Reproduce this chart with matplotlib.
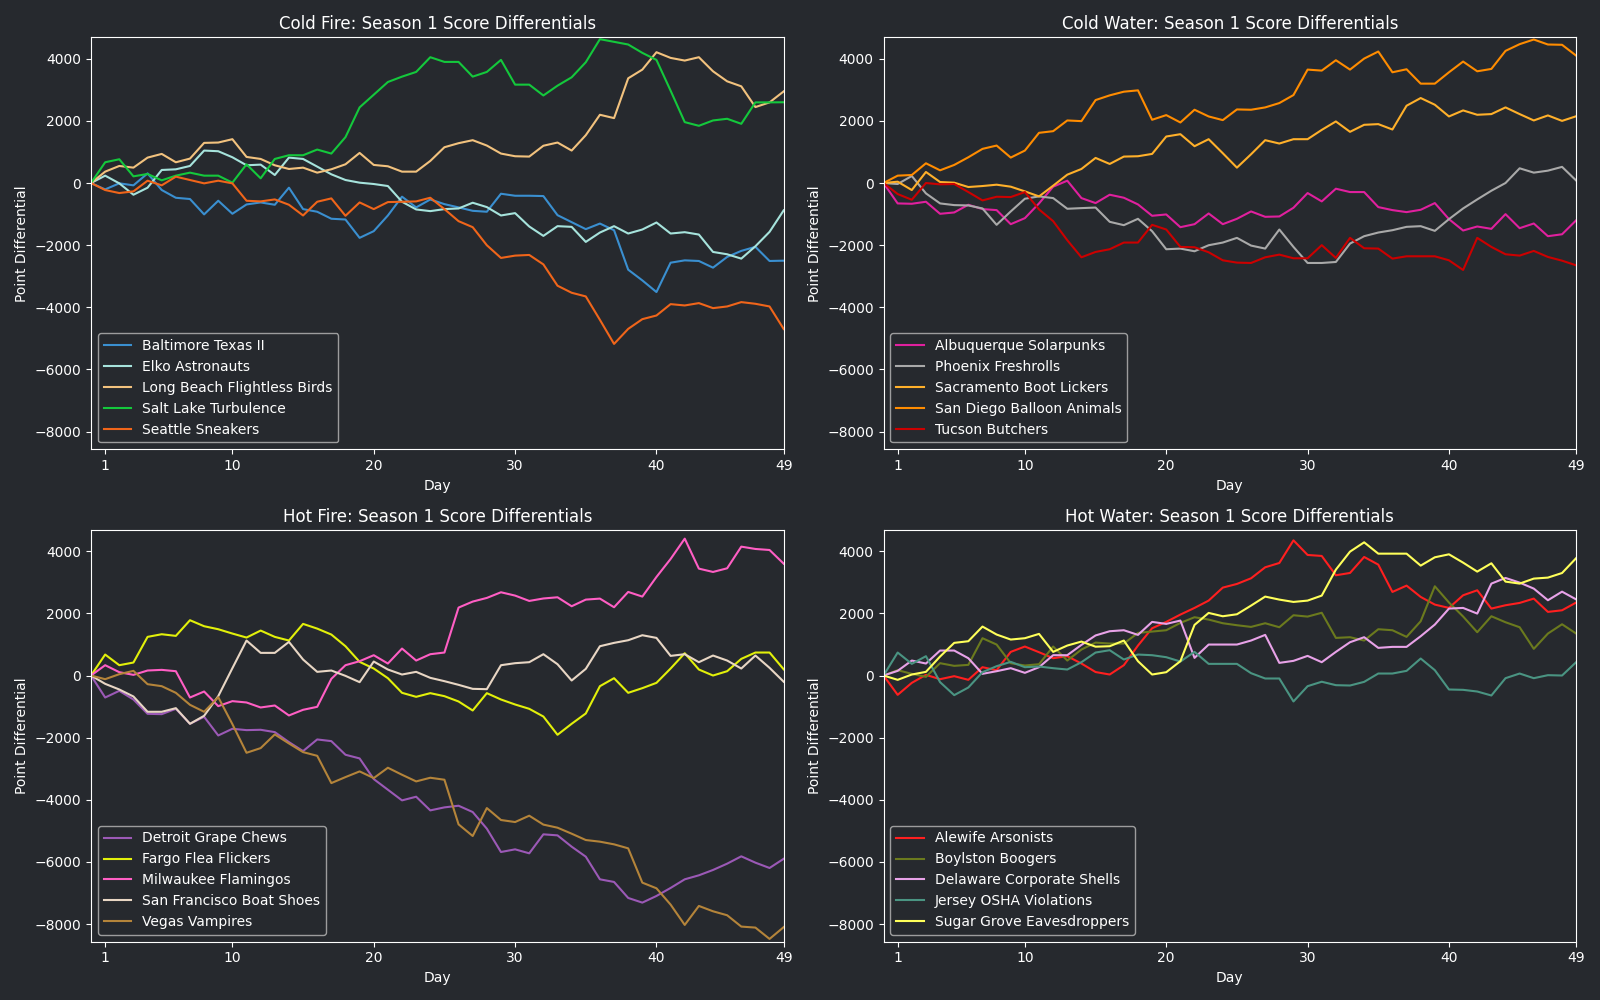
import matplotlib
matplotlib.use("Agg")
import matplotlib.pyplot as plt
import numpy as np

days = list(range(0, 50))
x_ticks = [1, 10, 20, 30, 40, 49]

# ---- Cold Fire ----
cold_fire_teams = ["Baltimore Texas II", "Elko Astronauts", "Long Beach Flightless Birds",
                   "Salt Lake Turbulence", "Seattle Sneakers"]
baltimore = [0, -205, -10, -75, 310, -225, -475, -515, -1010, -570, -990, -690, -625, -700, -150, -840, -925,
             -1150, -1175, -1765, -1550, -1045, -440, -785, -530, -680, -785, -895, -925, -345, -410, -410, -420,
             -1035, -1260, -1485, -1305, -1520, -2790, -3135, -3510, -2565, -2490, -2510, -2725, -2380, -2185,
             -2055, -2510, -2500]
elko = [0, 237, -11, -377, -151, 420, 441, 549, 1045, 1023, 829, 571, 592, 258, 818, 775, 528,
        280, 97, 11, -32, -97, -603, -851, -905, -840, -819, -635, -775, -1045, -969, -1400, -1702,
        -1389, -1411, -1896, -1594, -1389, -1626, -1497, -1271, -1626, -1583, -1659, -2219, -2294, -2434,
        -2036, -1572, -880]
long_beach = [0, 366, 549, 495, 818, 937, 668, 786, 1292, 1303, 1411, 840, 775, 571, 452, 495, 334,
              442, 603, 969, 582, 539, 366, 366, 711, 1152, 1282, 1379, 1206, 948, 862, 851, 1200,
              1303, 1045, 1540, 2197, 2089, 3371, 3651, 4211, 4028, 3942, 4050, 3597, 3274, 3113, 2445,
              2596, 2950]
salt_lake = [0, 668, 765, 215, 291, 86, 237, 334, 237, 237, 11, 603, 151, 775, 894, 894, 1077,
             948, 1477, 2435, 2843, 3252, 3425, 3576, 4050, 3899, 3899, 3425, 3576, 3964, 3167, 3167, 2818,
             3134, 3403, 3888, 4631, 4545, 4459, 4190, 3963, 2973, 1960, 1842, 2014, 2068, 1906, 2596,
             2596, 2600]
seattle = [0, -226, -323, -269, 75, -75, 205, 97, -11, 75, -11, -571, -592, -528, -700, -1045, -603,
           -495, -1055, -625, -840, -614, -603, -592, -474, -840, -1228, -1422, -2003, -2412, -2337, -2316,
           -2620, -3306, -3533, -3651, -4405, -5180, -4696, -4383, -4265, -3899, -3942, -3866, -4028, -3974,
           -3834, -3888, -3974, -4700]
cold_fire_colors = ["#3a8fd0", "#a6e3dc", "#f2c27e", "#14c83c", "#f0651a"]

# ---- Cold Water ----
cold_water_teams = ["Albuquerque Solarpunks", "Phoenix Freshrolls", "Sacramento Boot Lickers",
                    "San Diego Balloon Animals", "Tucson Butchers"]
albuquerque = [0, -657, -668, -603, -991, -948, -700, -840, -872, -1325, -1131, -657, -118, 75, -485, -646,
               -377, -474, -689, -1055, -1012, -1422, -1325, -980, -1325, -1152, -915, -1088, -1077, -797,
               -323, -592, -183, -291, -291, -775, -872, -937, -862, -646, -1163, -1529, -1400, -1475, -1002,
               -1454, -1303, -1712, -1650, -1200]
phoenix = [0, -32, 226, -334, -657, -711, -722, -819, -1346, -915, -506, -431, -485, -829, -808, -790,
           -1249, -1357, -1152, -1551, -2132, -2111, -2197, -2003, -1917, -1766, -2014, -2111, -1497, -2057,
           -2574, -2574, -2542, -1949, -1712, -1594, -1519, -1411, -1389, -1540, -1163, -819, -528, -248, 0,
           474, 334, 398, 520, 80]
sacramento = [0, 43, -226, 355, 32, 11, -129, -97, -54, -118, -269, -431, -86, 269, 452, 808,
              614, 851, 862, 937, 1497, 1572, 1185, 1411, 959, 495, 926, 1379, 1271, 1411, 1411, 1710,
              1982, 1648, 1874, 1896, 1723, 2488, 2736, 2520, 2143, 2337, 2197, 2219, 2434, 2219, 2014,
              2176, 2000, 2150]
san_diego = [0, 237, 258, 635, 409, 582, 829, 1099, 1206, 819, 1045, 1616, 1669, 2014, 1992, 2670,
             2822, 2940, 2983, 2036, 2186, 1949, 2359, 2143, 2025, 2369, 2359, 2434, 2574, 2832, 3651, 3619,
             3953, 3651, 4006, 4233, 3565, 3662, 3199, 3199, 3565, 3910, 3597, 3673, 4254, 4470, 4620,
             4459, 4450, 4100]
tucson = [0, -355, -539, 0, -43, -32, -291, -560, -442, -452, -291, -851, -1228, -1842, -2391, -2219,
          -2132, -1917, -1917, -1346, -1497, -2057, -2068, -2229, -2488, -2563, -2574, -2391, -2305, -2423,
          -2423, -2000, -2412, -1766, -2100, -2111, -2434, -2359, -2359, -2359, -2488, -2800, -1766, -2057,
          -2294, -2337, -2186, -2380, -2500, -2650]
cold_water_colors = ["#e0209e", "#a9a9a9", "#ffb02a", "#ff8c00", "#cc0000"]

# ---- Hot Fire ----
hot_fire_teams = ["Detroit Grape Chews", "Fargo Flea Flickers", "Milwaukee Flamingos",
                  "San Francisco Boat Shoes", "Vegas Vampires"]
detroit = [0, -708, -493, -772, -1233, -1244, -1072, -1554, -1329, -1930, -1715, -1758, -1747, -1822, -2144,
           -2433, -2058, -2112, -2551, -2669, -3334, -3677, -4020, -3902, -4342, -4245, -4192, -4395, -4931,
           -5682, -5596, -5724, -5113, -5146, -5510, -5832, -6561, -6646, -7161, -7311, -7097, -6839, -6561,
           -6432, -6260, -6057, -5821, -6025, -6196, -5900]
fargo = [0, 675, 332, 418, 1244, 1329, 1276, 1780, 1587, 1490, 1351, 1222, 1447, 1244, 1126, 1662, 1510,
         1319, 943, 440, 225, -86, -557, -686, -568, -665, -836, -1126, -568, -772, -933, -1072, -1320,
         -1908, -1554, -1222, -343, -86, -557, -407, -236, 225, 718, 193, 0, 139, 536, 740, 740, 200]
milwaukee = [0, 332, 107, 21, 161, 182, 139, -708, -515, -986, -825, -868, -1029, -965, -1286, -1104, -1008,
             -107, 332, 461, 654, 386, 868, 482, 686, 740, 2187, 2380, 2498, 2680, 2573, 2401, 2480,
             2519, 2230, 2444, 2476, 2198, 2691, 2541, 3173, 3752, 4406, 3441, 3334, 3452, 4149, 4074,
             4041, 3600]
san_francisco = [0, -268, -450, -675, -1168, -1168, -1051, -1554, -1297, -665, 236, 1126, 729, 729, 1083, 515,
                 118, 161, -11, -214, 450, 193, 32, 118, -75, -182, -300, -429, -440, 332, 397, 429, 686,
                 364, -161, 214, 943, 1051, 1136, 1297, 1211, 632, 686, 429, 643, 482, 225, 643, 247, -200]
vegas = [0, -118, 43, 150, -279, -343, -557, -943, -1168, -697, -1565, -2487, -2337, -1897, -2187, -2466,
         -2585, -3463, -3270, -3087, -3302, -2969, -3195, -3409, -3291, -3355, -4792, -5167, -4267, -4652,
         -4717, -4513, -4800, -4899, -5092, -5296, -5349, -5435, -5564, -6668, -6850, -7375, -8029, -7418,
         -7590, -7718, -8083, -8115, -8480, -8100]
hot_fire_colors = ["#9b59b6", "#e2f00a", "#ff5ec4", "#e8d6c4", "#b4843a"]

# ---- Hot Water ----
hot_water_teams = ["Alewife Arsonists", "Boylston Boogers", "Delaware Corporate Shells",
                   "Jersey OSHA Violations", "Sugar Grove Eavesdroppers"]
alewife = [0, -622, -236, 21, -118, -21, -139, 268, 172, 761, 933, 750, 557, 622, 386, 112,
           32, 332, 965, 1522, 1726, 1962, 2176, 2412, 2830, 2948, 3130, 3484, 3623, 4352, 3881, 3849,
           3227, 3302, 3816, 3570, 2691, 2894, 2530, 2283, 2176, 2583, 2744, 2155, 2262, 2337, 2476,
           2048, 2100, 2350]
boylston = [0, 172, 54, -43, 397, 311, 343, 1201, 997, 397, 322, 364, 933, 482, 836, 1060,
            1029, 1029, 1372, 1415, 1458, 1694, 1876, 1801, 1683, 1619, 1565, 1683, 1554, 1940, 1897, 2020,
            1211, 1233, 1126, 1490, 1458, 1244, 1747, 2873, 2350, 1900, 1394, 1908, 1715, 1554, 858,
            1351, 1650, 1350]
delaware = [0, 150, 482, 386, 804, 804, 557, 54, 139, 236, 86, 268, 654, 654, 986, 1290,
            1426, 1458, 1308, 1726, 1662, 1769, 568, 997, 997, 997, 1126, 1308, 407, 472, 632, 429,
            761, 1072, 1233, 890, 922, 922, 1265, 1640, 2155, 2176, 1994, 2959, 3141, 2991, 2798,
            2423, 2700, 2450]
jersey = [0, 740, 375, 622, -214, -632, -386, 107, 300, 440, 268, 290, 236, 193, 429, 740,
          815, 515, 675, 654, 590, 450, 761, 375, 375, 375, 75, -96, -96, -836, -343, -200,
          -311, -322, -204, 64, 64, 150, 547, 172, -450, -461, -515, -643, -86, 64, -86, 11, 0, 430]
sugar_grove = [0, -139, 32, 118, 611, 1051, 1104, 1576, 1319, 1158, 1201, 1340, 761, 965, 1093, 928,
               943, 1126, 461, 32, 107, 461, 1629, 2015, 1908, 1972, 2251, 2541, 2444, 2369, 2412, 2573,
               3409, 3988, 4288, 3923, 3923, 3923, 3538, 3806, 3902, 3634, 3345, 3613, 3023, 2959, 3120,
               3152, 3300, 3780]
hot_water_colors = ["#ff1f1f", "#6b7a1e", "#e8a2e8", "#4a9482", "#ffff5a"]

panels = [
    ("Cold Fire: Season 1 Score Differentials", cold_fire_teams,
     [baltimore, elko, long_beach, salt_lake, seattle], cold_fire_colors),
    ("Cold Water: Season 1 Score Differentials", cold_water_teams,
     [albuquerque, phoenix, sacramento, san_diego, tucson], cold_water_colors),
    ("Hot Fire: Season 1 Score Differentials", hot_fire_teams,
     [detroit, fargo, milwaukee, san_francisco, vegas], hot_fire_colors),
    ("Hot Water: Season 1 Score Differentials", hot_water_teams,
     [alewife, boylston, delaware, jersey, sugar_grove], hot_water_colors),
]

BG = "#26292e"
FG = "#ffffff"

plt.rcParams["font.family"] = ["DejaVu Sans"]
fig, axes = plt.subplots(2, 2, figsize=(16, 10), dpi=100)
fig.patch.set_facecolor(BG)

for ax, (title, teams, series, colors) in zip(axes.flat, panels):
    ax.set_facecolor(BG)
    for name, vals, col in zip(teams, series, colors):
        ax.plot(days, vals, color=col, linewidth=1.5, label=name)
    ax.set_xlim(0, 49)
    ax.set_ylim(-8570, 4690)
    ax.set_xticks(x_ticks)
    ax.set_yticks([-8000, -6000, -4000, -2000, 0, 2000, 4000])
    ax.set_title(title, color=FG, fontsize=12)
    ax.set_xlabel("Day", color=FG, fontsize=10)
    ax.set_ylabel("Point Differential", color=FG, fontsize=10)
    ax.tick_params(colors=FG, labelsize=10)
    for sp in ax.spines.values():
        sp.set_color(FG)
    leg = ax.legend(loc="lower left", fontsize=10, facecolor=BG, edgecolor="#aaaaaa",
                    labelcolor=FG, framealpha=0.9)

fig.tight_layout()
fig.savefig("out.png", facecolor=BG)
